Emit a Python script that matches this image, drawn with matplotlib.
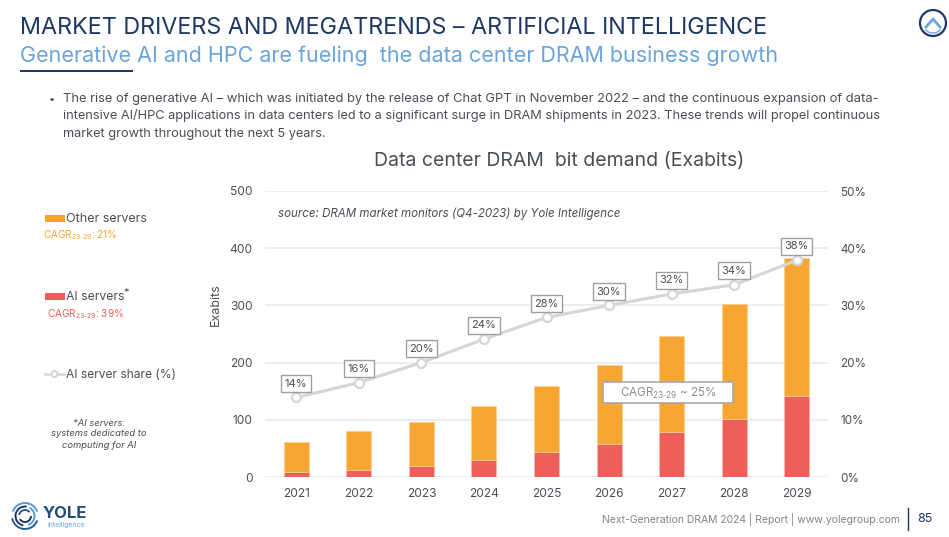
import matplotlib
matplotlib.use("Agg")
import matplotlib.pyplot as plt
from matplotlib.patches import Rectangle, Arc, Circle

plt.rcParams["font.family"] = ["Inter", "DejaVu Sans"]
plt.rcParams["mathtext.default"] = "regular"

# ---------------------------------------------------
# Data
# ---------------------------------------------------
years = ["2021", "2022", "2023", "2024", "2025", "2026", "2027", "2028", "2029"]
ai_servers = [8, 13, 19, 30, 44, 58, 79, 101, 142]
other_servers = [53, 67, 78, 95, 114.5, 138, 167.5, 201, 241]
ai_share = [13.9, 16.5, 20, 24.1, 27.9, 30, 32, 33.6, 37.9]
share_labels = ["14%", "16%", "20%", "24%", "28%", "30%", "32%", "34%", "38%"]
left_ticks = [0, 100, 200, 300, 400, 500]
right_ticks = [0, 10, 20, 30, 40, 50]

ORANGE = "#F7A533"
RED = "#EE5F5B"
GREY_LINE = "#D6D6D6"
TEXT = "#4A4F57"
NAVY = "#1F3864"
BLUE = "#6AA5DC"

W, H = 949, 537
fig = plt.figure(figsize=(W / 100, H / 100), dpi=100)

# ---------------------------------------------------
# Chart
# ---------------------------------------------------
ax = fig.add_axes([265 / W, 1 - 477 / H, 563 / W, 286 / H], zorder=1)
x = list(range(len(years)))
ax.bar(x, ai_servers, width=0.4, color=RED, edgecolor="#F6B3AE", linewidth=0.6, zorder=3)
ax.bar(x, other_servers, width=0.4, bottom=ai_servers, color=ORANGE, edgecolor="#FBD08F",
       linewidth=0.6, zorder=3)
ax.set_xlim(-0.5, 8.5)
ax.set_ylim(0, 500)
ax.set_xticks(x, years)
ax.set_yticks(left_ticks)
ax.grid(axis="y", color="#EDEDED", linewidth=1.4, zorder=0)
ax.set_axisbelow(True)
ax.tick_params(length=0, labelsize=8.6, labelcolor=TEXT, pad=9)
ax.tick_params(axis="x", pad=8)
for s in ax.spines.values():
    s.set_visible(False)

ax2 = ax.twinx()
ax2.set_zorder(2)
ax2.set_ylim(0, 50)
ax2.set_yticks(right_ticks, [f"{t}%" for t in right_ticks])
ax2.tick_params(length=0, labelsize=8.4, labelcolor=TEXT, pad=9)
for s in ax2.spines.values():
    s.set_visible(False)
ax2.plot(x, ai_share, color=GREY_LINE, linewidth=2.2, marker="o", markersize=6.5,
         markerfacecolor="white", markeredgecolor=GREY_LINE, markeredgewidth=1.6, zorder=4)
for xi, yi, lab in zip(x, ai_share, share_labels):
    ax2.annotate(lab, (xi, yi), xytext=(0, 10), textcoords="offset points", ha="center",
                 va="center", fontsize=8, color=TEXT, zorder=5,
                 bbox=dict(boxstyle="square,pad=0.32", fc="white", ec="#A0A0A0", lw=1))

# ---------------------------------------------------
# Everything around the chart, in pixel coordinates
# ---------------------------------------------------
ov = fig.add_axes([0, 0, 1, 1], zorder=3)
ov.set_xlim(0, W)
ov.set_ylim(H, 0)
ov.axis("off")
ov.patch.set_alpha(0)

ov.text(20, 28, "MARKET DRIVERS AND MEGATRENDS – ARTIFICIAL INTELLIGENCE", fontsize=16.8,
        color=NAVY, va="center")
ov.text(20, 56, "Generative AI and HPC are fueling  the data center DRAM business growth", fontsize=15.5,
        color=BLUE, va="center")
ov.add_patch(Rectangle((20, 70), 113, 2, color=NAVY, lw=0))

ov.text(49, 99, "•", fontsize=8, color=TEXT, va="center")
ov.text(63, 99, "The rise of generative AI – which was initiated by the release of Chat GPT in November 2022 – and the continuous expansion of data-",
        fontsize=9.33, color=TEXT, va="center")
ov.text(63, 116, "intensive AI/HPC applications in data centers led to a significant surge in DRAM shipments in 2023. These trends will propel continuous",
        fontsize=9.2, color=TEXT, va="center")
ov.text(63, 134, "market growth throughout the next 5 years.", fontsize=9.2, color=TEXT, va="center")

ov.text(559, 161, "Data center DRAM  bit demand (Exabits)", fontsize=14, color=TEXT, ha="center", va="center")
ov.text(278, 214, "source: DRAM market monitors (Q4-2023) by Yole Intelligence", fontsize=8.3, style="italic",
        color=TEXT, va="center")
ov.text(216, 305, "Exabits", fontsize=9, color=TEXT, rotation=90, ha="center", va="center")

# legend
ov.add_patch(Rectangle((45, 215), 20, 7, color=ORANGE, lw=0))
ov.text(66, 218.5, "Other servers", fontsize=9, color=TEXT, va="center")
ov.text(43, 235, r"CAGR$_{23\text{-}29}$: 21%", fontsize=7.2, color=ORANGE, va="center")
ov.add_patch(Rectangle((45, 293), 20, 7, color=RED, lw=0))
ov.text(66, 296.5, "AI servers", fontsize=8.8, color=TEXT, va="center")
ov.text(123, 293, "*", fontsize=8, color=TEXT, va="center")
ov.text(47, 314, r"CAGR$_{23\text{-}29}$: 39%", fontsize=7.2, color=RED, va="center")
ov.plot([45, 64], [374, 374], color=GREY_LINE, linewidth=1.8, zorder=1)
ov.add_patch(Circle((54.5, 374), 3, fc="white", ec=GREY_LINE, lw=1.4, zorder=2))
ov.text(66, 374.5, "AI server share (%)", fontsize=8.7, color=TEXT, va="center")
for yy, line in zip([423, 434, 445], ["*AI servers:", "systems dedicated to", "computing for AI"]):
    ov.text(99, yy, line, fontsize=6.8, style="italic", color=TEXT, ha="center", va="center")

# CAGR box
ov.add_patch(Rectangle((603, 382), 130, 21, fc="white", ec="#A8A8A8", lw=1.2, zorder=5))
ov.text(668, 393, r"CAGR$_{23\text{-}29}$ ~ 25%", fontsize=8.4, color="#8A9099", ha="center",
        va="center", zorder=6)

# top right button
ov.add_patch(Circle((933, 23), 13, fc="white", ec=NAVY, lw=1.6))
ov.add_patch(Arc((933, 23), 20, 20, theta1=40, theta2=140, color=BLUE, lw=1))
ov.plot([926, 933, 940], [27, 19, 27], color=BLUE, linewidth=2)

# logo
for r, t1, t2, c in [(13, 20, 170, "#2C5A94"), (13, 200, 340, "#5B9BD5"), (9.5, 100, 280, NAVY),
                     (9.5, 300, 70, "#5B9BD5"), (6, 0, 150, NAVY), (6, 190, 320, "#2C5A94")]:
    ov.add_patch(Arc((25, 516), r * 2, r * 2, theta1=t1, theta2=t2, color=c, lw=1.4))
ov.text(43, 513, "YOLE", fontsize=12, fontweight="bold", color="#1F4E79", va="center")
ov.text(47, 525, "Intelligence", fontsize=5, color=BLUE, va="center")

# footer
ov.text(602, 520, "Next-Generation DRAM 2024 | Report | www.yolegroup.com", fontsize=7.5, color="#7F868E", va="center")
ov.plot([908, 908], [508, 530], color=NAVY, linewidth=1)
ov.text(917, 519, "85", fontsize=9, color=NAVY, va="center")

fig.savefig("out.png", dpi=100)
